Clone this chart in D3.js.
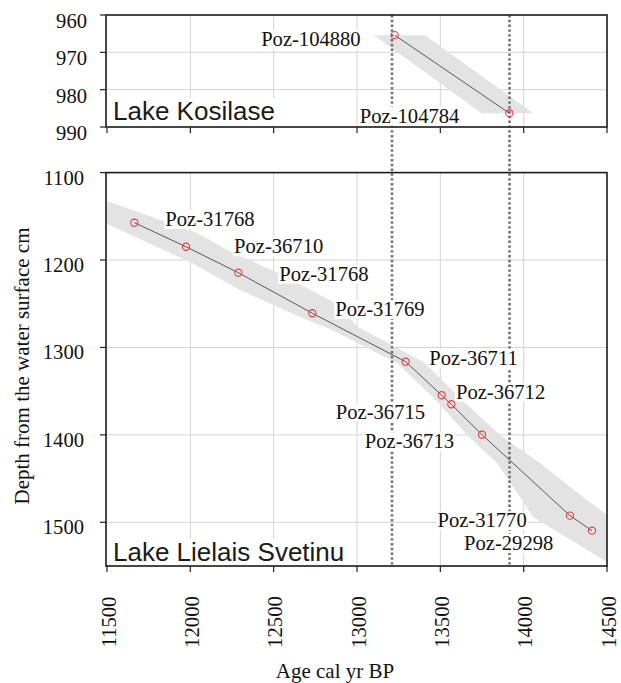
<!DOCTYPE html>
<html>
<head>
<meta charset="utf-8">
<script src="https://cdn.jsdelivr.net/npm/d3@7"></script>
<style>
  body { margin: 0; background: #fff; }
  svg { display: block; }
</style>
</head>
<body>
<div id="chart"></div>
<script>
// ages shared by both panels
const ageTicks = [11500, 12000, 12500, 13000, 13500, 14000, 14500];
const boundaryAges = [13210, 13915];

// Lake Kosilase
const kosDepthTicks = [960, 970, 980, 990];
const kosIds = ["Poz-104880", "Poz-104784"];
const kosAges = [13226, 13914];
const kosDepths = [965.4, 986.3];
// envelope: [depth, youngest age, oldest age]
const kosBand = [[965.4, 13102, 13408], [986.3, 13748, 14058]];

// Lake Lielais Svetinu
const lieDepthTicks = [1100, 1200, 1300, 1400, 1500];
const lieIds = ["Poz-31768", "Poz-36710", "Poz-31768", "Poz-31769", "Poz-36711",
  "Poz-36712", "Poz-36715", "Poz-36713", "Poz-31770", "Poz-29298"];
const lieAges = [11664, 11974, 12288, 12732, 13292, 13508, 13566, 13750, 14278, 14410];
const lieDepths = [1157.3, 1184.8, 1214.5, 1260.9, 1316.3, 1354.7, 1365, 1399.8, 1492.4, 1509.6];
// envelope edges [age, depth]
const lieBandUpper = [[11500, 1132.5], [12040, 1169.1], [12256, 1192], [12520, 1214],
  [12898, 1252], [13000, 1276], [13408, 1317.8], [13612, 1356.7], [13858, 1400.2],
  [14098, 1432.2], [14356, 1471.1], [14500, 1491.7]];
const lieBandLower = [[14500, 1545.4], [14056, 1493.9], [13978, 1471.1], [13840, 1432.2],
  [13660, 1400.2], [13456, 1356.7], [13240, 1317.8], [12850, 1280], [12658, 1265.2],
  [12298, 1234.3], [11998, 1202.3], [11500, 1158.8]];

// label placement (pixels from the point), anchor
const kosLabelPos = [[-34, 11, "end"], [-50, 9.4, "end"]];
const lieLabelPos = [[31, 3.3, "start"], [48, 6.6, "start"], [41, 8, "start"], [23, 2.7, "start"],
  [23.6, 3.3, "start"], [14.3, 3.7, "start"], [-26.3, 15, "end"], [-28, 13.6, "end"],
  [-43.3, 11.6, "end"], [-38.7, 19.3, "end"]];

const W = 621, H = 683;
const serif = "'Liberation Serif', 'Times New Roman', serif";
const sans = "'Liberation Sans', Arial, sans-serif";
const gridCol = "#d4d4d4";
const fs = 20.6;

const svg = d3.select("#chart").append("svg")
  .attr("width", W).attr("height", H);

const x = d3.scaleLinear().domain([11500, 14500]).range([107, 607]);
const yTop = d3.scaleLinear().domain([960, 990]).range([15, 127]);
const yBot = d3.scaleLinear().domain([1100, 1550]).range([172.6, 566]);

// white box behind a text so grid / band / dotted lines stop at it
function boxed(sel) {
  sel.each(function () {
    const b = this.getBBox();
    d3.select(this.parentNode).insert("rect", () => this)
      .attr("x", b.x - 1).attr("y", b.y + 2)
      .attr("width", b.width + 2).attr("height", b.height - 3)
      .attr("fill", "#fff");
  });
}

function panel(y, depthTicks, labelDy, labelX, id) {
  const g = svg.append("g");
  const [y0, y1] = y.range();

  g.append("clipPath").attr("id", id)
    .append("rect").attr("x", x(11500)).attr("y", y0)
    .attr("width", x(14500) - x(11500)).attr("height", y1 - y0);

  // grid
  g.selectAll(".vg").data(ageTicks.slice(1, -1)).enter().append("line")
    .attr("x1", d => x(d)).attr("x2", d => x(d))
    .attr("y1", y0).attr("y2", y1)
    .attr("stroke", gridCol).attr("stroke-width", 1);
  g.selectAll(".hg").data(depthTicks.slice(1).filter(d => y(d) < y1 - 1)).enter().append("line")
    .attr("x1", x(11500)).attr("x2", x(14500))
    .attr("y1", d => y(d)).attr("y2", d => y(d))
    .attr("stroke", gridCol).attr("stroke-width", 1);

  // ticks left
  g.selectAll(".lt").data(depthTicks).enter().append("line")
    .attr("x1", 100).attr("x2", 106)
    .attr("y1", d => y(d)).attr("y2", d => y(d))
    .attr("stroke", "#222").attr("stroke-width", 1.2);
  g.selectAll(".ll").data(depthTicks).enter().append("text")
    .attr("x", labelX).attr("y", d => y(d) + labelDy)
    .attr("text-anchor", "end")
    .attr("font-family", serif).attr("font-size", fs).attr("fill", "#111")
    .text(d => d);

  // ticks bottom
  g.selectAll(".bt").data(ageTicks).enter().append("line")
    .attr("x1", d => x(d)).attr("x2", d => x(d))
    .attr("y1", y1).attr("y2", y1 + 6)
    .attr("stroke", "#222").attr("stroke-width", 1.2);

  return g;
}

const gTop = panel(yTop, kosDepthTicks, 13, 87, "clipTop");
const gBot = panel(yBot, lieDepthTicks, 12, 84, "clipBot");

// envelopes
gTop.append("path")
  .datum(kosBand)
  .attr("clip-path", "url(#clipTop)")
  .attr("fill", "#e3e3e3")
  .attr("d", d3.area().curve(d3.curveLinear)
    .y(d => yTop(d[0])).x0(d => x(d[1])).x1(d => x(d[2])));

const lieBand = lieBandUpper.concat(lieBandLower);
gBot.append("path")
  .datum(lieBand)
  .attr("clip-path", "url(#clipBot)")
  .attr("fill", "#e3e3e3")
  .attr("d", d3.line().x(d => x(d[0])).y(d => yBot(d[1])).curve(d3.curveLinearClosed));

// boundary dotted lines across both panels
svg.selectAll(".bd").data(boundaryAges).enter().append("line")
  .attr("x1", d => x(d)).attr("x2", d => x(d))
  .attr("y1", yTop(960)).attr("y2", yBot(1550))
  .attr("stroke", "#6e6e6e").attr("stroke-width", 2.6)
  .attr("stroke-dasharray", "2.4,2.4");

function series(y, ages, depths, ids, pos) {
  const g = svg.append("g");
  const pts = ages.map((a, i) => [a, depths[i]]);
  g.append("path").datum(pts)
    .attr("fill", "none").attr("stroke", "#333").attr("stroke-width", 0.8)
    .attr("d", d3.line().x(d => x(d[0])).y(d => y(d[1])));
  g.selectAll(".pt").data(pts).enter().append("circle")
    .attr("cx", d => x(d[0])).attr("cy", d => y(d[1])).attr("r", 3.6)
    .attr("fill", "none").attr("stroke", "#ee3b3b").attr("stroke-width", 1.1);
  g.selectAll(".lb").data(pts).enter().append("text")
    .attr("x", (d, i) => x(d[0]) + pos[i][0])
    .attr("y", (d, i) => y(d[1]) + pos[i][1])
    .attr("text-anchor", (d, i) => pos[i][2])
    .attr("font-family", serif).attr("font-size", fs).attr("fill", "#111")
    .text((d, i) => ids[i])
    .call(boxed);
}

series(yTop, kosAges, kosDepths, kosIds, kosLabelPos);
series(yBot, lieAges, lieDepths, lieIds, lieLabelPos);

// lake names
svg.append("g").selectAll("text")
  .data([["Lake Kosilase", yTop(990) - 7], ["Lake Lielais Svetinu", yBot(1550) - 5]])
  .enter().append("text")
  .attr("x", 113).attr("y", d => d[1])
  .attr("font-family", sans).attr("font-size", 26).attr("fill", "#1a1a1a")
  .text(d => d[0])
  .call(boxed);

// frames
svg.append("rect")
  .attr("x", x(11500) - 1).attr("y", yTop(960))
  .attr("width", x(14500) - x(11500) + 1).attr("height", yTop(990) - yTop(960))
  .attr("fill", "none").attr("stroke", "#333").attr("stroke-width", 1.8);
svg.append("rect")
  .attr("x", x(11500) - 1).attr("y", yBot(1100))
  .attr("width", x(14500) - x(11500) + 1).attr("height", yBot(1550) - yBot(1100))
  .attr("fill", "none").attr("stroke", "#1a1a1a").attr("stroke-width", 1.6);

// x tick labels (rotated)
svg.selectAll(".xl").data(ageTicks).enter().append("text")
  .attr("transform", d => `translate(${x(d) + 8.5},622) rotate(-90)`)
  .attr("text-anchor", "middle")
  .attr("font-family", serif).attr("font-size", fs).attr("fill", "#111")
  .text(d => d);

// axis titles
svg.append("text").attr("x", 335).attr("y", 678)
  .attr("text-anchor", "middle")
  .attr("font-family", serif).attr("font-size", 21).attr("fill", "#111")
  .text("Age cal yr BP");
svg.append("text")
  .attr("transform", "translate(29,366) rotate(-90)")
  .attr("text-anchor", "middle")
  .attr("font-family", serif).attr("font-size", 21).attr("fill", "#111")
  .text("Depth from the water surface cm");
</script>
</body>
</html>
